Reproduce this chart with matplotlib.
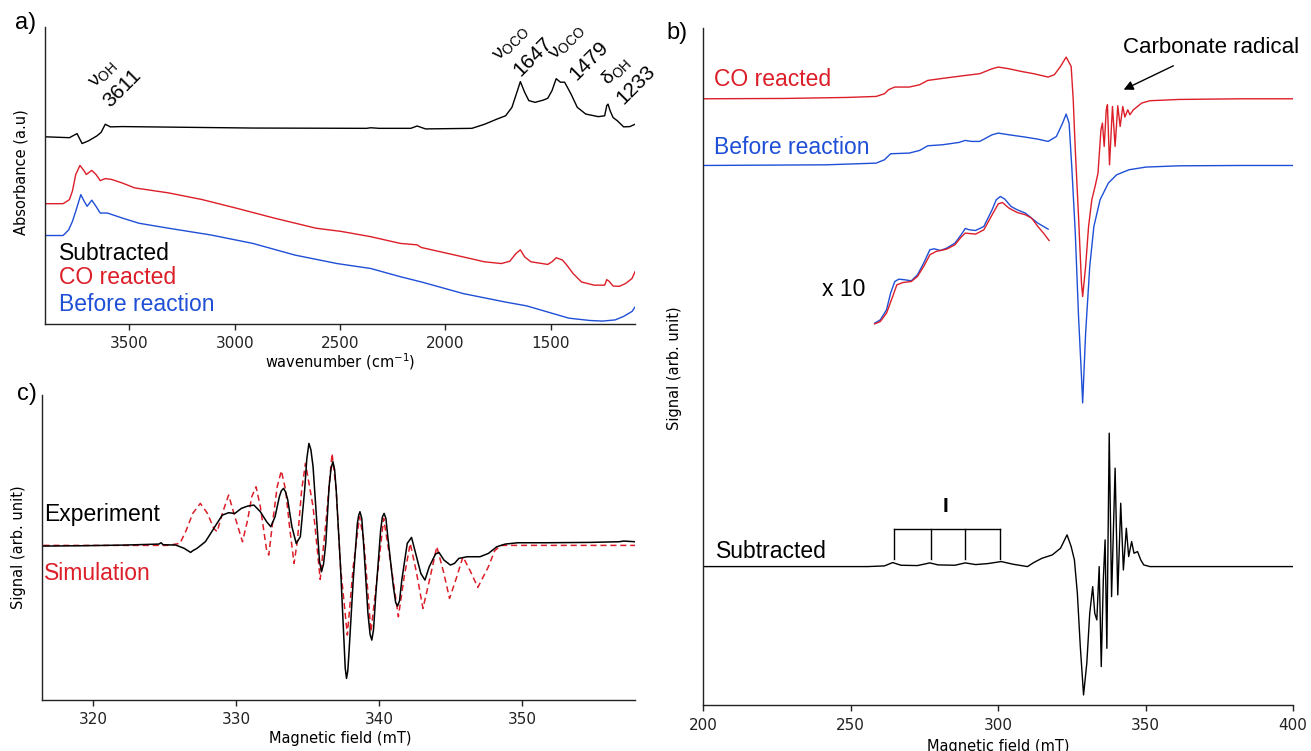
import matplotlib
matplotlib.use('Agg')
import matplotlib.pyplot as plt

RED = '#dc1e28'
BLUE = '#1e4fd6'
ANNOT = 'Liberation Sans'

# ---- a) IR spectra (wavenumber in cm-1, absorbance in a.u.) ----
ir_sub_wn = [3900, 3784, 3748, 3724, 3694, 3654, 3634, 3614, 3590, 3534, 2914, 2374, 2354,
             2314, 2164, 2134, 2094, 1874, 1814, 1754, 1714, 1684, 1658, 1644, 1624, 1604,
             1574, 1534, 1514, 1494, 1474, 1454, 1434, 1404, 1374, 1334, 1274, 1244, 1234,
             1228, 1218, 1204, 1184, 1154, 1124, 1100]
ir_sub_abs = [0.641, 0.638, 0.652, 0.618, 0.627, 0.644, 0.656, 0.684, 0.675, 0.676, 0.671,
              0.670, 0.672, 0.670, 0.670, 0.678, 0.668, 0.670, 0.684, 0.702, 0.713, 0.742,
              0.799, 0.830, 0.794, 0.765, 0.759, 0.767, 0.773, 0.799, 0.840, 0.828, 0.828,
              0.788, 0.742, 0.719, 0.710, 0.713, 0.748, 0.753, 0.730, 0.707, 0.696, 0.675,
              0.676, 0.684]

ir_co_wn = [3900, 3814, 3784, 3770, 3754, 3734, 3714, 3704, 3678, 3658, 3638, 3614, 3584,
            3534, 3474, 3314, 3154, 2994, 2814, 2614, 2494, 2354, 2214, 2134, 2114, 1954,
            1814, 1734, 1694, 1664, 1644, 1624, 1594, 1514, 1494, 1474, 1444, 1424, 1394,
            1354, 1294, 1244, 1234, 1224, 1204, 1174, 1144, 1114, 1100]
ir_co_abs = [0.412, 0.412, 0.426, 0.455, 0.512, 0.543, 0.524, 0.512, 0.526, 0.512, 0.491,
             0.498, 0.495, 0.483, 0.466, 0.449, 0.426, 0.397, 0.363, 0.328, 0.317, 0.299,
             0.276, 0.271, 0.262, 0.236, 0.213, 0.207, 0.215, 0.242, 0.254, 0.230, 0.213,
             0.204, 0.213, 0.227, 0.219, 0.202, 0.173, 0.144, 0.133, 0.133, 0.152, 0.147,
             0.130, 0.129, 0.139, 0.156, 0.179]

ir_before_wn = [3900, 3814, 3788, 3770, 3754, 3730, 3714, 3700, 3678, 3658, 3638, 3604,
                3534, 3454, 3314, 3114, 2914, 2714, 2514, 2354, 2214, 2114, 1914, 1714,
                1614, 1514, 1414, 1314, 1254, 1194, 1154, 1114, 1100]
ir_before_abs = [0.303, 0.303, 0.322, 0.351, 0.386, 0.443, 0.420, 0.403, 0.424, 0.403,
                 0.380, 0.380, 0.363, 0.345, 0.328, 0.305, 0.276, 0.236, 0.207, 0.190,
                 0.162, 0.144, 0.104, 0.075, 0.062, 0.041, 0.020, 0.012, 0.010, 0.014,
                 0.026, 0.043, 0.058]

ir_ticks = [3500, 3000, 2500, 2000, 1500]

# ---- b) EPR spectra (field in mT, signal in arb. units) ----
epr_co_B = [200.0, 227.7, 248.8, 258.7, 261.5, 262.9, 265.0, 269.9, 273.4, 276.2, 281.2,
            288.2, 293.8, 298.0, 300.1, 303.7, 307.9, 312.1, 317.0, 319.1, 321.2, 323.1,
            324.8, 325.5, 326.2, 327.3, 328.3, 328.7, 329.7, 330.7, 331.8, 332.9, 333.9,
            334.9, 335.4, 336.0, 336.7, 337.1, 337.8, 338.8, 339.7, 340.6, 341.4, 342.3,
            343.0, 344.0, 344.7, 345.9, 348.7, 351.5, 361.3, 382.4, 400.0]
epr_co_sig = [90.44, 90.49, 90.64, 90.79, 91.19, 91.79, 92.19, 92.19, 92.53, 93.18, 93.48,
              93.88, 94.18, 94.92, 95.17, 94.92, 94.52, 94.18, 93.68, 94.03, 95.27, 96.66,
              95.27, 90.30, 82.83, 72.88, 62.93, 60.94, 65.42, 71.39, 75.37, 77.36, 79.35,
              85.82, 86.81, 83.33, 88.80, 89.55, 80.59, 89.30, 83.33, 89.40, 86.31, 89.30,
              87.71, 88.80, 88.06, 88.80, 89.80, 90.15, 90.34, 90.44, 90.44]

epr_before_B = [200.0, 241.8, 258.7, 261.5, 263.6, 269.9, 273.4, 276.2, 281.2, 286.8,
                288.9, 291.0, 293.8, 298.0, 300.1, 303.7, 309.3, 313.5, 317.0, 319.8,
                321.9, 323.1, 324.1, 325.0, 326.2, 327.3, 328.3, 328.7, 329.7, 331.1,
                332.5, 334.6, 337.4, 340.2, 344.4, 350.1, 361.3, 382.4, 400.0]
epr_before_sig = [80.49, 80.59, 80.84, 81.34, 82.24, 82.34, 82.73, 83.43, 83.58, 83.93,
                  84.23, 84.08, 84.08, 85.07, 85.32, 85.07, 84.72, 84.42, 84.08, 84.82,
                  86.81, 88.16, 86.81, 80.34, 70.40, 57.96, 49.00, 45.07, 55.47, 65.42,
                  71.39, 75.37, 77.86, 79.10, 79.85, 80.25, 80.44, 80.49, 80.49]

x10_before_B = [258.2, 260.1, 262.2, 263.6, 265.0, 266.4, 268.5, 270.6, 272.7, 274.8,
                276.9, 278.3, 280.5, 282.6, 285.4, 287.5, 288.9, 290.3, 292.4, 295.2,
                298.0, 299.4, 300.8, 302.3, 304.4, 306.5, 309.3, 311.4, 313.5, 317.0]
x10_before_sig = [56.96, 57.46, 58.95, 61.44, 63.18, 63.53, 63.43, 63.28, 64.18, 65.92,
                  67.91, 68.06, 67.81, 68.16, 68.90, 70.15, 71.09, 70.89, 70.79, 71.39,
                  73.88, 75.37, 75.87, 75.47, 74.38, 73.88, 73.38, 72.63, 71.89, 70.99]

x10_co_B = [258.2, 260.1, 262.2, 264.3, 265.7, 267.8, 270.6, 272.7, 274.8, 276.9, 279.0,
            282.6, 285.4, 287.5, 288.9, 292.4, 295.2, 298.0, 300.1, 301.5, 303.7, 306.5,
            309.3, 311.4, 313.5, 315.6, 317.3]
x10_co_sig = [56.86, 57.21, 58.45, 60.94, 62.68, 63.03, 63.18, 63.93, 65.42, 67.16, 67.66,
              68.01, 68.66, 69.80, 70.40, 70.25, 70.89, 73.13, 74.77, 74.97, 74.13, 73.48,
              73.13, 72.63, 71.39, 70.30, 69.30]

epr_sub_B = [200.0, 227.7, 255.8, 261.5, 264.3, 267.1, 272.7, 276.9, 279.7, 285.4, 288.9,
             292.4, 296.6, 301.1, 305.1, 310.0, 312.1, 314.9, 318.4, 321.2, 323.4, 324.8,
             325.9, 326.9, 327.9, 329.0, 330.1, 331.1, 332.1, 332.8, 333.5, 334.3, 335.0,
             335.7, 336.3, 336.9, 337.7, 338.5, 339.7, 340.6, 341.6, 342.5, 343.5, 344.3,
             345.3, 346.1, 347.3, 348.4, 349.4, 351.5, 368.4, 400.0]
epr_sub_sig = [20.65, 20.65, 20.65, 20.75, 21.25, 20.85, 20.80, 21.20, 20.90, 20.85, 21.20,
               20.95, 21.10, 21.40, 21.00, 20.65, 21.25, 21.89, 22.39, 23.39, 25.38, 23.64,
               21.64, 16.67, 8.71, 1.50, 6.22, 13.69, 17.66, 13.69, 12.69, 20.65, 5.73,
               18.66, 24.63, 8.46, 40.55, 16.17, 35.33, 16.42, 30.10, 20.15, 26.37, 22.14,
               24.38, 22.64, 22.89, 21.64, 20.90, 20.65, 20.65, 20.65]

# hyperfine lines marked "I"
hf_lines_I = [264.7, 277.2, 288.9, 300.6]
epr_ticks = [200, 250, 300, 350, 400]

# ---- c) experiment vs simulation ----
exp_B = [316.5, 319.26, 322.22, 324.58, 324.73, 324.88, 325.76, 326.36, 326.80, 326.95,
         327.24, 327.54, 327.83, 328.13, 328.57, 329.02, 329.46, 329.90, 330.35, 330.79,
         331.23, 331.68, 332.12, 332.41, 332.71, 333.01, 333.15, 333.30, 333.45, 333.60,
         333.89, 334.19, 334.48, 334.78, 334.93, 335.08, 335.22, 335.37, 335.67, 335.82,
         335.96, 336.10, 336.26, 336.49, 336.63, 336.76, 336.88, 336.99, 337.29, 337.53,
         337.62, 337.71, 337.80, 337.88, 338.18, 338.47, 338.56, 338.65, 338.78, 338.92,
         339.21, 339.36, 339.48, 339.60, 339.75, 340.10, 340.22, 340.34, 340.47, 340.60,
         340.99, 341.15, 341.28, 341.42, 341.58, 341.96, 342.26, 342.55, 342.91, 343.20,
         343.50, 343.94, 344.18, 344.53, 344.98, 345.27, 345.57, 346.16, 347.05, 347.64,
         348.23, 348.82, 349.71, 351.78, 354.73, 356.80, 357.10, 357.9]
exp_sig = [50.47, 50.58, 50.80, 51.12, 51.56, 50.91, 50.80, 49.70, 48.39, 48.94,
           49.70, 50.80, 51.89, 54.08, 57.35, 60.63, 61.40, 61.18, 62.82, 63.58,
           63.91, 61.73, 58.45, 56.81, 60.09, 66.65, 68.60, 69.38, 68.20, 65.55,
           56.81, 51.34, 53.53, 68.83, 79.00, 84.13, 82.00, 76.48, 55.72, 45.50,
           42.05, 44.50, 51.34, 69.92, 76.00, 78.12, 75.50, 68.83, 43.69, 19.65,
           10.50, 7.08, 9.50, 15.28, 39.32, 57.90, 60.50, 61.73, 59.50, 50.25,
           28.39, 21.50, 19.65, 23.00, 33.86, 55.72, 60.00, 61.18, 59.50, 53.53,
           37.13, 32.00, 30.79, 32.50, 39.32, 51.34, 53.31, 48.06, 41.51, 39.32,
           43.69, 47.85, 48.39, 45.88, 44.24, 44.79, 46.42, 46.97, 46.97, 48.06,
           50.25, 51.12, 51.56, 51.56, 51.67, 51.89, 52.11, 51.89]

sim_B = [316.5, 325.17, 326.06, 326.50, 326.95, 327.48, 327.98, 328.42, 328.66, 329.02,
         329.46, 329.90, 330.43, 330.79, 331.08, 331.38, 331.68, 332.12, 332.27, 332.56,
         332.86, 333.15, 333.45, 333.75, 334.04, 334.28, 334.57, 334.84, 335.37, 335.87,
         336.26, 336.70, 336.99, 337.29, 337.77, 338.18, 338.62, 338.92, 339.42, 339.85,
         340.31, 340.80, 341.34, 341.75, 342.17, 342.60, 343.06, 343.55, 344.03, 344.50,
         344.92, 345.40, 345.86, 346.40, 346.90, 347.64, 348.08, 348.52, 357.9]
sim_sig = [50.69, 50.69, 51.34, 55.72, 61.18, 64.46, 61.18, 56.26, 55.17, 61.18,
           67.19, 60.09, 51.89, 59.00, 66.65, 69.92, 63.37, 49.16, 47.52, 59.00,
           69.92, 75.17, 68.83, 55.72, 44.79, 52.44, 68.83, 77.58, 63.37, 39.54,
           57.90, 80.85, 68.83, 43.69, 21.29, 43.69, 60.09, 52.44, 22.38, 40.00,
           59.54, 45.00, 27.30, 40.50, 51.34, 42.00, 30.03, 40.00, 50.25, 42.00,
           33.31, 40.00, 46.97, 42.00, 36.92, 43.69, 48.94, 50.69, 50.69]

sim_ticks = [320, 330, 340, 350]


def fx(px):
    return px / 1311.0


def fy(py):
    return 1 - py / 751.0


def style(ax, ticks):
    for s in ['top', 'right']:
        ax.spines[s].set_visible(False)
    for s in ['left', 'bottom']:
        ax.spines[s].set_linewidth(1.0)
        ax.spines[s].set_color('#222222')
    ax.set_yticks([])
    ax.set_xticks(ticks)
    ax.tick_params(axis='x', direction='out', length=4, width=1.0, pad=5,
                   labelsize=11, colors='#222222')


fig = plt.figure(figsize=(13.11, 7.51), dpi=100)
ax_a = fig.add_axes([fx(45), fy(324), fx(590), 297 / 751.0])
ax_b = fig.add_axes([fx(703), fy(705), fx(590), 677 / 751.0])
ax_c = fig.add_axes([fx(42), fy(700), fx(593), 305 / 751.0])

# a)
ax_a.plot(ir_sub_wn, ir_sub_abs, color='black', lw=1.0)
ax_a.plot(ir_co_wn, ir_co_abs, color=RED, lw=1.0)
ax_a.plot(ir_before_wn, ir_before_abs, color=BLUE, lw=1.0)
ax_a.set_xlim(3900, 1100)
ax_a.set_ylim(0, 1.017)
style(ax_a, ir_ticks)
ax_a.text(0.024, 0.239, 'Subtracted', transform=ax_a.transAxes, family=ANNOT,
          fontsize=16.5, va='center', color='black')
ax_a.text(0.024, 0.155, 'CO reacted', transform=ax_a.transAxes, family=ANNOT,
          fontsize=16.5, va='center', color=RED)
ax_a.text(0.024, 0.064, 'Before reaction', transform=ax_a.transAxes, family=ANNOT,
          fontsize=16.5, va='center', color=BLUE)

peak_labels = [('ν$_{\\mathregular{OH}}$', 104, 75, 14), ('3611', 122, 88, 15),
               ('ν$_{\\mathregular{OCO}}$', 512, 44, 14), ('1647', 533, 57, 15),
               ('ν$_{\\mathregular{OCO}}$', 568, 43, 14), ('1479', 589, 61, 15),
               ('δ$_{\\mathregular{OH}}$', 616, 71, 14), ('1233', 636, 85, 15)]
for txt, px, py, fs in peak_labels:
    fig.text(fx(px), fy(py), txt, rotation=45, family=ANNOT, fontsize=fs,
             ha='center', va='center', rotation_mode='anchor')

fig.text(fx(340), fy(362), 'wavenumber (cm$^{-1}$)', ha='center', va='center', fontsize=10.5)
fig.text(fx(21), fy(172), 'Absorbance (a.u)', rotation=90, ha='center', va='center',
         fontsize=10.5)
fig.text(fx(26), fy(23), 'a)', family=ANNOT, fontsize=17, ha='center', va='center')

# b)
ax_b.plot(epr_co_B, epr_co_sig, color=RED, lw=1.0)
ax_b.plot(epr_before_B, epr_before_sig, color=BLUE, lw=1.0)
ax_b.plot(x10_before_B, x10_before_sig, color=BLUE, lw=1.0)
ax_b.plot(x10_co_B, x10_co_sig, color=RED, lw=1.0)
ax_b.plot(epr_sub_B, epr_sub_sig, color='black', lw=1.0)
ax_b.plot([hf_lines_I[0], hf_lines_I[-1]], [26.27, 26.27], color='black', lw=1.0)
for b in hf_lines_I:
    ax_b.plot([b, b], [21.79, 26.27], color='black', lw=1.0)
ax_b.text(282.3, 29.6, 'I', family=ANNOT, fontsize=15, fontweight='bold',
          ha='center', va='center')
ax_b.set_xlim(200, 400)
ax_b.set_ylim(0, 101.0)
style(ax_b, epr_ticks)
ax_b.text(203.7, 93.28, 'CO reacted', family=ANNOT, fontsize=16.5, va='center', color=RED)
ax_b.text(203.7, 83.13, 'Before reaction', family=ANNOT, fontsize=16.5, va='center',
          color=BLUE)
ax_b.text(240.3, 61.94, 'x 10', family=ANNOT, fontsize=16.5, va='center')
ax_b.text(204.4, 22.84, 'Subtracted', family=ANNOT, fontsize=16.5, va='center')
ax_b.annotate('Carbonate radical', xy=(342.6, 91.8), xytext=(372.2, 98.06),
              family=ANNOT, fontsize=16, ha='center', va='center',
              arrowprops=dict(arrowstyle='-|>', color='black', lw=1.0,
                              shrinkA=8, shrinkB=0, mutation_scale=14))
fig.text(fx(998), fy(746), 'Magnetic field (mT)', ha='center', va='center', fontsize=10.5)
fig.text(fx(675), fy(368), 'Signal (arb. unit)', rotation=90, ha='center', va='center',
         fontsize=10.5)
fig.text(fx(677), fy(33), 'b)', family=ANNOT, fontsize=17, ha='center', va='center')

# c)
ax_c.plot(sim_B, sim_sig, color=RED, lw=1.1, linestyle=(0, (4, 2.5)))
ax_c.plot(exp_B, exp_sig, color='black', lw=1.1)
ax_c.set_xlim(316.4, 357.9)
ax_c.set_ylim(0, 100)
style(ax_c, sim_ticks)
ax_c.text(0.004, 0.607, 'Experiment', transform=ax_c.transAxes, family=ANNOT,
          fontsize=16.5, va='center')
ax_c.text(0.004, 0.416, 'Simulation', transform=ax_c.transAxes, family=ANNOT,
          fontsize=16.5, va='center', color=RED)
fig.text(fx(340), fy(738), 'Magnetic field (mT)', ha='center', va='center', fontsize=10.5)
fig.text(fx(19), fy(547), 'Signal (arb. unit)', rotation=90, ha='center', va='center',
         fontsize=10.5)
fig.text(fx(27), fy(394), 'c)', family=ANNOT, fontsize=17, ha='center', va='center')

fig.savefig('out.png', dpi=100)
